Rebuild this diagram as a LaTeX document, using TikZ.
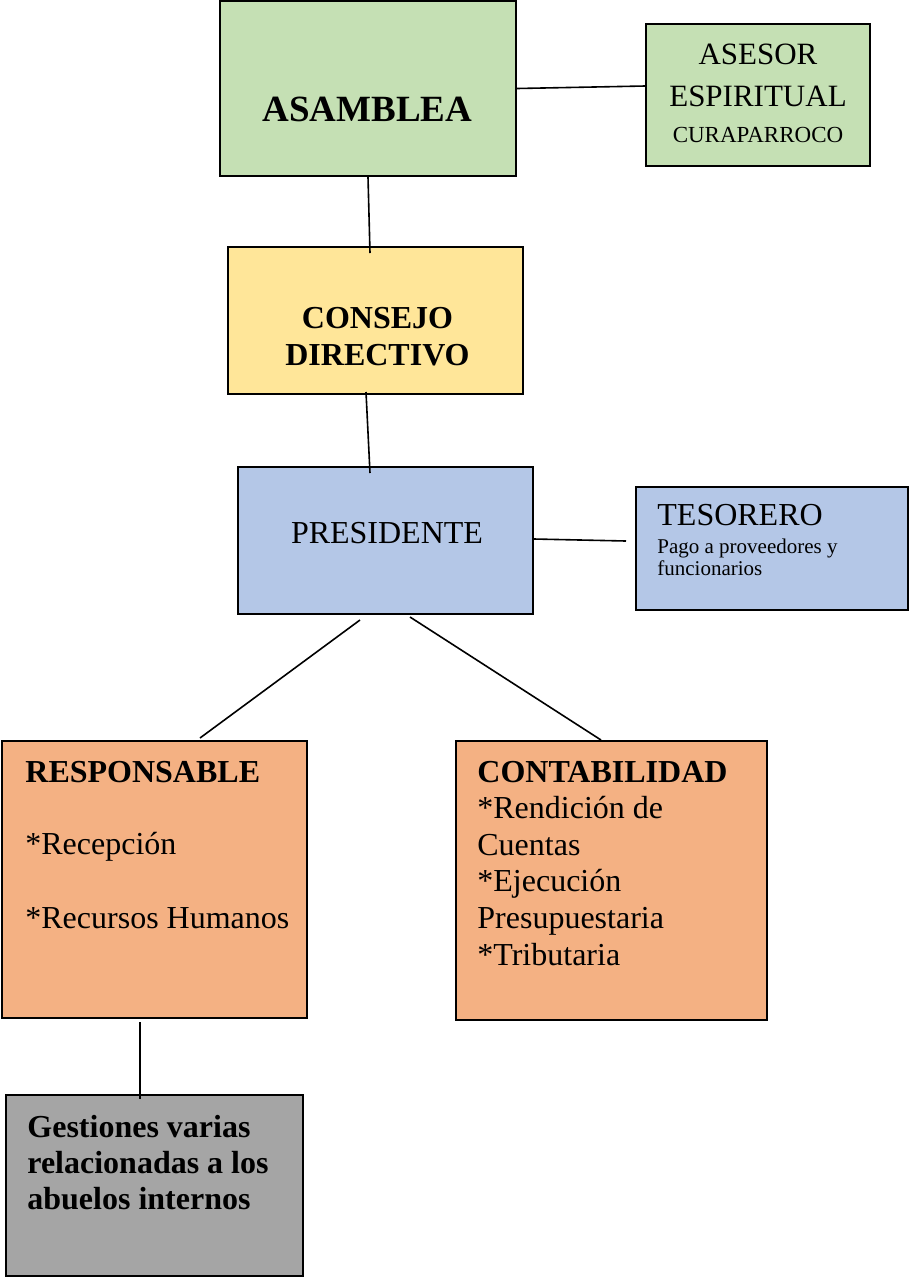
\documentclass[tikz,border=0pt]{standalone}
\usepackage{fontspec}
\setmainfont{Liberation Serif}
\definecolor{greenbox}{HTML}{C5E0B4}
\definecolor{yellowbox}{HTML}{FFE699}
\definecolor{bluebox}{HTML}{B4C7E7}
\definecolor{orangebox}{HTML}{F4B183}
\definecolor{graybox}{HTML}{A5A5A5}
\begin{document}
\begin{tikzpicture}[x=0.5pt, y=-0.5pt,
  box/.style={draw, line width=1pt, inner sep=0pt},
  txt/.style={inner sep=0pt, font=\fontsize{16}{18.3}\selectfont},
  link/.style={line width=0.8pt}]
\useasboundingbox (0,0) rectangle (910,1281);
% boxes
\node[box, fill=greenbox, minimum width=148pt, minimum height=87.5pt] (asamblea) at (368,88.5) {};
\node[box, fill=greenbox, minimum width=112pt, minimum height=71pt] (asesor) at (758,95) {};
\node[box, fill=yellowbox, minimum width=147.5pt, minimum height=73.5pt] (consejo) at (375.5,320.5) {};
\node[box, fill=bluebox, minimum width=147.5pt, minimum height=73.5pt] (presidente) at (385.5,540.5) {};
\node[box, fill=bluebox, minimum width=136pt, minimum height=61.5pt] (tesorero) at (772,548.5) {};
\node[box, fill=orangebox, minimum width=152.5pt, minimum height=138.5pt] (responsable) at (154.5,879.5) {};
\node[box, fill=orangebox, minimum width=155.5pt, minimum height=139.5pt] (contabilidad) at (611.5,880.5) {};
\node[box, fill=graybox, minimum width=148.5pt, minimum height=90.5pt] (gestiones) at (154.5,1185.5) {};
% texts (multi-line ones sit on the baseline of their last line)
\node[txt, anchor=base, font=\bfseries\fontsize{18.5}{22}\selectfont] (asambleatxt) at (367.5,121) {ASAMBLEA};
\node[txt, anchor=base, align=center, font=\fontsize{15.5}{21}\selectfont] (asesortxt) at (758,142)
  {ASESOR\\ESPIRITUAL\\[-3pt]{\fontsize{11.5}{14}\selectfont CURAPARROCO}};
\node[txt, anchor=base, align=center, font=\bfseries\fontsize{16}{18.5}\selectfont] (consejotxt) at (377.5,365)
  {CONSEJO\\DIRECTIVO};
\node[txt, anchor=base] (presidentetxt) at (387,543) {PRESIDENTE};
\node[txt, anchor=base west, align=left, font=\fontsize{10.5}{11}\selectfont] (tesorerotxt) at (657,575)
  {{\fontsize{16}{18}\selectfont TESORERO}\\[3pt]Pago a proveedores y\\funcionarios};
\node[txt, anchor=base west, align=left] (responsabletxt) at (25,928)
  {\textbf{RESPONSABLE}\\[18pt]*Recepción\\[18.4pt]*Recursos Humanos};
\node[txt, anchor=base west, align=left] (contabilidadtxt) at (477,965)
  {\textbf{CONTABILIDAD}\\*Rendición de\\Cuentas\\*Ejecución\\Presupuestaria\\*Tributaria};
\node[txt, anchor=base west, align=left, font=\bfseries\fontsize{16}{18}\selectfont] (gestionestxt) at (27,1209)
  {Gestiones varias\\relacionadas a los\\abuelos internos};
% connectors
\draw[link] (asamblea.east) -- ([yshift=4.5pt]asesor.west);
\draw[link] (asamblea.south) -- ([xshift=-2.75pt,yshift=-3.5pt]consejo.north);
\draw[link] ([xshift=-4.75pt,yshift=1.5pt]consejo.south) -- ([xshift=-7.75pt,yshift=-3.5pt]presidente.north);
\draw[link] ([yshift=0.75pt]presidente.east) -- ([xshift=-4.5pt,yshift=3.75pt]tesorero.west);
\draw[link] ([xshift=-12.75pt,yshift=-2.5pt]presidente.south) -- ([xshift=22.75pt,yshift=1pt]responsable.north);
\draw[link] ([xshift=12.25pt,yshift=-1pt]presidente.south) -- ([xshift=-5.25pt]contabilidad.north);
\draw[link] ([xshift=-7.25pt,yshift=-1.5pt]responsable.south) -- ([xshift=-7.25pt,yshift=-2.5pt]gestiones.north);
\end{tikzpicture}
\end{document}
